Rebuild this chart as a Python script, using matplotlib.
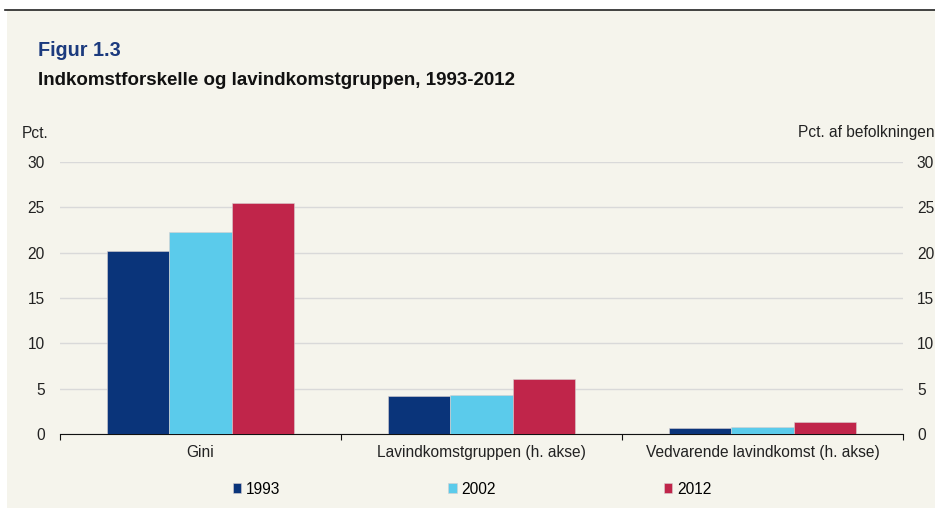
import matplotlib.pyplot as plt
import numpy as np

plt.rcParams['font.family'] = ['Liberation Sans', 'DejaVu Sans']

categories = ['Gini', 'Lavindkomstgruppen (h. akse)', 'Vedvarende lavindkomst (h. akse)']
years = ['1993', '2002', '2012']
v1993 = [20.2, 4.2, 0.65]
v2002 = [22.3, 4.35, 0.78]
v2012 = [25.5, 6.1, 1.3]
colors = ['#0A347A', '#5BCBEB', '#C0254A']

bg = '#F5F4EC'
fs = 11.2
fig = plt.figure(figsize=(9.35, 5.08), dpi=100, facecolor='white')
# beige panel
fig.patches.append(plt.Rectangle((7 / 935, 0), 1, 1 - 10 / 508, transform=fig.transFigure,
                                 facecolor=bg, edgecolor='none', zorder=-5))
fig.lines.append(plt.Line2D([5 / 935, 1], [1 - 10 / 508] * 2, transform=fig.transFigure,
                            color='#222222', lw=1.2))

ax = fig.add_axes([60 / 935, 1 - 434 / 508, 843 / 935, 272 / 508])
ax.set_facecolor(bg)
ax2 = ax.twinx()

x = np.arange(len(categories))
w = 0.222
for i, (vals, yr) in enumerate(zip([v1993, v2002, v2012], years)):
    ax.bar(x + (i - 1) * w, vals, w, color=colors[i], label=yr,
           edgecolor='#d8d0d0', linewidth=0.4, zorder=3)

ax.set_xlim(-0.5, 2.5)
ax.set_ylim(0, 30)
ax2.set_ylim(0, 30)
ticks = np.arange(0, 31, 5)
ax.set_yticks(ticks)
ax2.set_yticks(ticks)
ax.yaxis.grid(True, color='#D9D9D9', lw=1, zorder=0)
ax.set_axisbelow(True)

for a in (ax, ax2):
    for s in ['top', 'left', 'right', 'bottom']:
        a.spines[s].set_visible(False)
    a.tick_params(axis='y', length=0, labelsize=fs, labelcolor='#222222')
ax.tick_params(axis='y', pad=11)
ax2.tick_params(axis='y', pad=10)
ax.spines['bottom'].set_visible(True)
ax.spines['bottom'].set_color('#111111')

ax.set_xticks([-0.5, 0.5, 1.5, 2.5])
ax.set_xticklabels([])
ax.tick_params(axis='x', length=4, direction='out', color='#111111')
ax.set_xticks(x, minor=True)
ax.set_xticklabels(categories, minor=True)
ax.tick_params(axis='x', which='minor', length=0, labelsize=fs, labelcolor='#222222', pad=8)

fig.text(38 / 935, 1 - 51 / 508, 'Figur 1.3', color='#1B3A7E', fontsize=14.2,
         fontweight='bold', va='center')
fig.text(38 / 935, 1 - 81 / 508, 'Indkomstforskelle og lavindkomstgruppen, 1993-2012',
         color='#111111', fontsize=13.5, fontweight='bold', va='center')
fig.text(22 / 935, 1 - 133 / 508, 'Pct.', fontsize=fs, color='#222222', va='center')
fig.text(935 / 935, 1 - 133 / 508, 'Pct. af befolkningen', fontsize=fs, color='#222222',
         va='center', ha='right')

handles, labels = ax.get_legend_handles_labels()
fig.legend(handles, labels, loc='center', bbox_to_anchor=(472 / 935, 1 - 489 / 508), ncol=3,
           frameon=False, fontsize=fs, handlelength=0.55, handleheight=0.55,
           handletextpad=0.3, columnspacing=10.8)

fig.savefig('out.png', dpi=100, facecolor='white')
